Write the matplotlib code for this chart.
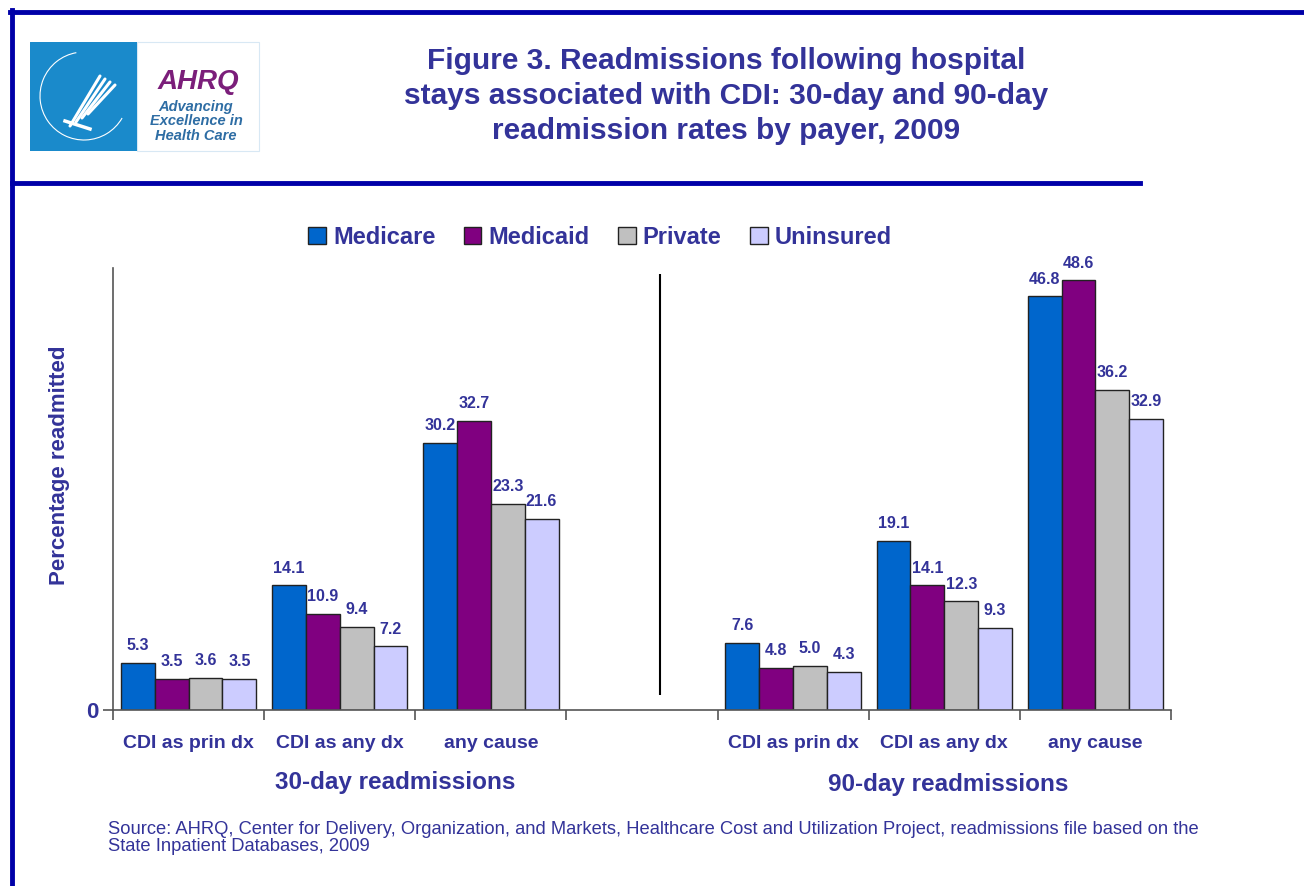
import numpy as np
import matplotlib
matplotlib.use("Agg")
import matplotlib.pyplot as plt
from matplotlib.patches import Rectangle, Arc

plt.rcParams['font.family'] = ['Liberation Sans', 'DejaVu Sans']

categories = ["CDI as prin dx", "CDI as any dx", "any cause"]
windows = ["30-day readmissions", "90-day readmissions"]
payers = ["Medicare", "Medicaid", "Private", "Uninsured"]
# 30-day (3 categories) then 90-day (3 categories)
medicare = [5.3, 14.1, 30.2, 7.6, 19.1, 46.8]
medicaid = [3.5, 10.9, 32.7, 4.8, 14.1, 48.6]
private = [3.6, 9.4, 23.3, 5.0, 12.3, 36.2]
uninsured = [3.5, 7.2, 21.6, 4.3, 9.3, 32.9]
colors = ["#0066CC", "#800080", "#C0C0C0", "#CCCCFF"]

navy = "#333399"
frame_blue = "#0000A8"

fig = plt.figure(figsize=(13.04, 8.86), dpi=100)
W, H = 1304, 886

def fx(px):
    return px / W

def fy(py):
    return 1 - py / H

# frame lines
fig.add_artist(plt.Line2D([fx(12), fx(12)], [fy(10), fy(886)], color=frame_blue, lw=3.5))
fig.add_artist(plt.Line2D([fx(10), fx(1304)], [fy(12), fy(12)], color=frame_blue, lw=3.5))
fig.add_artist(plt.Line2D([fx(12), fx(1140)], [fy(183), fy(183)], color=frame_blue, lw=3.5))

# logo (rough sketch)
fig.add_artist(Rectangle((fx(137), fy(151)), fx(122), 109 / H, facecolor="white",
                         edgecolor="#d8e8f4", lw=0.8))
lax = fig.add_axes([fx(30), fy(151), fx(107), 109 / H], zorder=3)
lax.set_xlim(0, 107)
lax.set_ylim(0, 109)
lax.axis('off')
lax.add_patch(Rectangle((0, 0), 107, 109, color="#1A8ACB"))
lax.add_patch(Arc((54, 55), 88, 88, theta1=100, theta2=330, color="white", lw=0.8))
for k in range(4):
    lax.plot([40 + 6 * k, 70 + 5 * k], [25 + 4 * k, 75 - 3 * k], color="white", lw=2.2,
             solid_capstyle='round')
lax.plot([35, 60], [30, 22], color="white", lw=2.5)
fig.text(fx(198), fy(82), "AHRQ", fontsize=20, fontweight='bold', style='italic',
         color="#7B1E7A", ha='center', va='center')
for txt, yy in [("Advancing", 107), ("Excellence in", 121), ("Health Care", 136)]:
    fig.text(fx(196), fy(yy), txt, fontsize=10.5, fontweight='bold', style='italic',
             color="#2E6DA4", ha='center', va='center')

# title
fig.text(fx(726), fy(96), "Figure 3. Readmissions following hospital\n"
         "stays associated with CDI: 30-day and 90-day\n"
         "readmission rates by payer, 2009",
         fontsize=21.5, fontweight='bold', color=navy, ha='center', va='center',
         linespacing=1.3)

ax = fig.add_axes([fx(113), fy(710), fx(1171 - 113), (710 - 268) / H])

slots = np.array([0, 1, 2, 4, 5, 6])
bw = 0.224
series = [medicare, medicaid, private, uninsured]
for i, (vals, name, c) in enumerate(zip(series, payers, colors)):
    xs = slots + (i - 1.5) * bw
    bars = ax.bar(xs, vals, width=bw, color=c, edgecolor="#222222", linewidth=1, label=name)
    for b, v in zip(bars, vals):
        ax.annotate(f"{v:.1f}", (b.get_x() + b.get_width() / 2, v), xytext=(0, 7),
                    textcoords='offset points', ha='center', va='bottom',
                    fontsize=11.5, fontweight='bold', color=navy)

ax.set_xlim(-0.5, 6.5)
ax.set_ylim(0, 50)
ax.vlines(3.12, 1.7, 49.3, color="black", lw=1.5)

for s in ['top', 'right']:
    ax.spines[s].set_visible(False)
for s in ['left', 'bottom']:
    ax.spines[s].set_color("#555555")
    ax.spines[s].set_linewidth(1.2)

ax.set_xticks(np.arange(-0.5, 7, 1))
ax.set_xticklabels([])
ax.tick_params(axis='x', which='major', length=7, color="#555555", width=1.2)
ax.set_xticks(np.arange(0, 7), minor=True)
ax.set_xticklabels(categories + [""] + categories, minor=True)
ax.tick_params(axis='x', which='minor', length=0, pad=18, labelsize=14, labelcolor=navy)
for t in ax.get_xticklabels(minor=True):
    t.set_fontweight('bold')

ax.set_yticks([0])
ax.set_yticklabels(["0"])
ax.tick_params(axis='y', length=7, color="#555555", width=1.2, labelsize=16, labelcolor=navy)
for t in ax.get_yticklabels():
    t.set_fontweight('bold')

fig.text(fx(60), fy(465), "Percentage readmitted", rotation=90, fontsize=16,
         fontweight='bold', color=navy, ha='center', va='center')

fig.text(fx(395), fy(782), windows[0], fontsize=17.5, fontweight='bold', color=navy,
         ha='center', va='center')
fig.text(fx(948), fy(785), windows[1], fontsize=17.5, fontweight='bold', color=navy,
         ha='center', va='center')

leg = fig.legend(loc='center', bbox_to_anchor=(fx(600), fy(237)), ncol=4, frameon=False,
                 handlelength=0.75, handleheight=0.75, handletextpad=0.3, columnspacing=1.2,
                 prop={'size': 17, 'weight': 'bold'})
for t in leg.get_texts():
    t.set_color(navy)

fig.text(fx(108), fy(838), "Source: AHRQ, Center for Delivery, Organization, and Markets, "
         "Healthcare Cost and Utilization Project, readmissions file based on the\n"
         "State Inpatient Databases, 2009", fontsize=13.2, color=navy, ha='left',
         va='center', linespacing=1.0)

fig.savefig("out.png", dpi=100)
